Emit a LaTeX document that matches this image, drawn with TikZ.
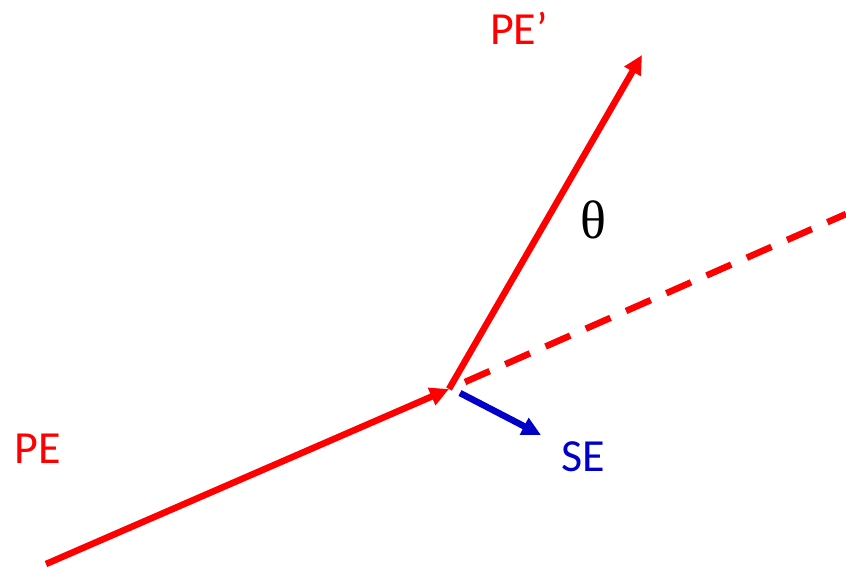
\documentclass[tikz,border=0pt]{standalone}
\usepackage{fontspec}
\setmainfont{Carlito}
\newfontfamily\serifth{Liberation Serif}
\usetikzlibrary{arrows.meta}
\definecolor{pered}{RGB}{255,0,0}
\definecolor{seblue}{RGB}{0,0,200}
\begin{document}
\begin{tikzpicture}[x=1pt,y=-1pt,
  ray/.style={line width=6.5pt,-{Triangle[length=19pt,width=18pt]}},
  lbl/.style={font=\fontsize{46}{50}\selectfont,inner sep=0pt}]
\useasboundingbox (0,0) rectangle (846,568);
\coordinate (start) at (46,564);
\coordinate (hit) at (449,389);
\coordinate (pep) at (642,55);
\coordinate (far) at (846,214);
\coordinate (ses) at (460,393);
\coordinate (see) at (541,435);
\draw[ray,pered] (start) -- (hit);
\draw[line width=6.5pt,pered,dash pattern=on 27pt off 17pt] (hit) ++(16,-7) -- (far);
\draw[ray,pered] (hit) -- (pep);
\draw[ray,seblue] (ses) -- (see);
\node[lbl,text=pered] (lpe) at (38,449) {PE};
\node[lbl,text=pered] (lpep) at (519,28) {PE’};
\node[lbl,text=seblue] (lse) at (583,457) {SE};
\node[inner sep=0pt,font=\serifth\fontsize{54}{56}\selectfont] (th) at (593,220) {θ};
\end{tikzpicture}
\end{document}
